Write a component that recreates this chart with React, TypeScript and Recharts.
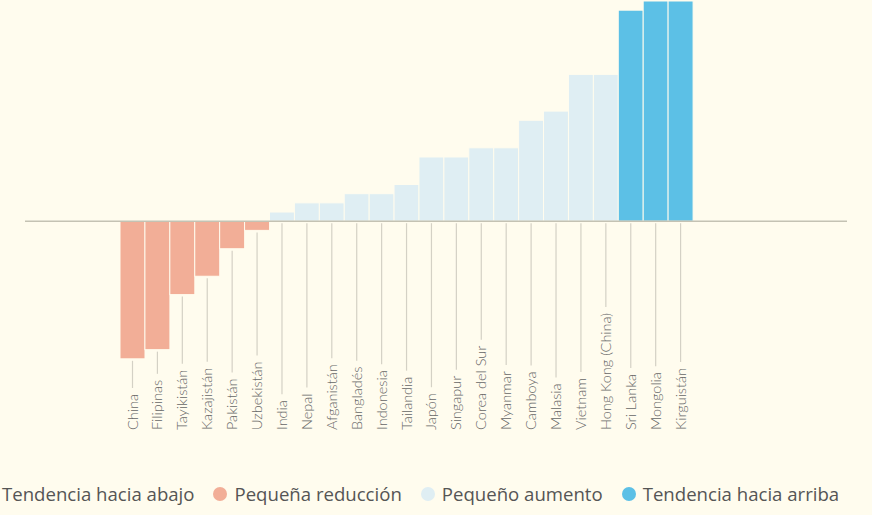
import { BarChart, Bar, XAxis, YAxis, ReferenceLine, Cell } from 'recharts';

// countries sorted by change, left to right
const countries = [
    'China', 'Filipinas', 'Tayikistán', 'Kazajistán', 'Pakistán', 'Uzbekistán',
    'India', 'Nepal', 'Afganistán', 'Bangladés', 'Indonesia', 'Tailandia',
    'Japón', 'Singapur', 'Corea del Sur', 'Myanmar', 'Camboya', 'Malasia',
    'Vietnam', 'Hong Kong (China)', 'Sri Lanka', 'Mongolia', 'Kirguistán',
];
const changes = [-15, -14, -8, -6, -3, -1, 1, 2, 2, 3, 3, 4, 7, 7, 8, 8, 11, 12, 16, 16, 23, 24, 24];
// index into legendLabels
const trendGroups = [1, 1, 1, 1, 1, 1, 2, 2, 2, 2, 2, 2, 2, 2, 2, 2, 2, 2, 2, 2, 3, 3, 3];
const legendLabels = ['Tendencia hacia abajo', 'Pequeña reducción', 'Pequeño aumento', 'Tendencia hacia arriba'];
const groupColors = ['#E0705A', '#F2AE97', '#DFEEF3', '#5CC0E6'];

const BG = '#FFFCEE';
const FONT = 'Lato, "Open Sans", sans-serif';
const LABEL_FONT = `300 14.5px ${FONT}`;

const CHART_W = 872;
const CHART_H = 440;
const MARGIN = { top: 1, right: 25, left: 25, bottom: 8 };
const XAXIS_H = 64;
const PLOT_BOTTOM = CHART_H - MARGIN.bottom - XAXIS_H;
const LABEL_BOTTOM = PLOT_BOTTOM + 62;

const data = countries.map((country, i) => ({
    country,
    change: changes[i],
    group: trendGroups[i],
}));

let ctx: CanvasRenderingContext2D | null = null;
function textWidth(s: string) {
    if (!ctx) ctx = document.createElement('canvas').getContext('2d');
    if (!ctx) return s.length * 7;
    ctx.font = LABEL_FONT;
    return ctx.measureText(s).width;
}

// bar plus the thin leader line down to its label
const BarWithLeader = (props: any) => {
    const { x, y, width, height, fill, payload } = props;
    const top = Math.min(y, y + height);
    const bottom = Math.max(y, y + height);
    const cx = x + width / 2;
    const lineEnd = LABEL_BOTTOM - textWidth(payload.country) - 6;
    return (
        <g>
            <rect x={x} y={top} width={width} height={bottom - top} fill={fill} stroke={BG} strokeWidth={1} />
            <line x1={cx} x2={cx} y1={bottom + 2} y2={lineEnd} stroke="#D4D1C5" strokeWidth={1.2} />
        </g>
    );
};

const CountryTick = ({ x, payload }: any) => (
    <text
        x={x}
        y={LABEL_BOTTOM}
        dy="0.35em"
        transform={`rotate(-90 ${x} ${LABEL_BOTTOM})`}
        textAnchor="start"
        style={{ font: LABEL_FONT }}
        fill="#666"
    >
        {payload.value}
    </text>
);

const TrendLegend = () => (
    <div
        style={{
            position: 'absolute', left: -19, top: 481, display: 'flex', alignItems: 'center',
            fontFamily: '"Open Sans", sans-serif', fontSize: 18.6, color: '#555', whiteSpace: 'nowrap',
        }}
    >
        {legendLabels.map((label, i) => (
            <div key={label} style={{ display: 'flex', alignItems: 'center', marginRight: 19 }}>
                <span style={{ width: 14, height: 14, borderRadius: 7, background: groupColors[i], marginRight: 7 }} />
                <span>{label}</span>
            </div>
        ))}
    </div>
);

export default function App() {
    return (
        <div style={{ position: 'absolute', left: 0, top: 0, width: 872, height: 515, background: BG, overflow: 'hidden' }}>
            <BarChart width={CHART_W} height={CHART_H} data={data} margin={MARGIN} barCategoryGap={0}>
                <XAxis
                    dataKey="country"
                    interval={0}
                    height={XAXIS_H}
                    axisLine={false}
                    tickLine={false}
                    tick={<CountryTick />}
                    padding={{ left: 95, right: 154 }}
                />
                <YAxis hide domain={[-16, 24]} />
                <Bar dataKey="change" shape={<BarWithLeader />} isAnimationActive={false}>
                    {data.map((d) => (
                        <Cell key={d.country} fill={groupColors[d.group]} />
                    ))}
                </Bar>
                <ReferenceLine y={0} stroke="#C4C2B3" strokeWidth={1.5} />
            </BarChart>
            <TrendLegend />
        </div>
    );
}
